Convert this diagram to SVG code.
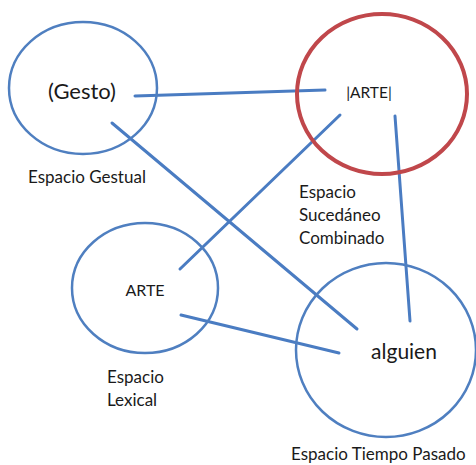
<svg xmlns="http://www.w3.org/2000/svg" width="476" height="465" viewBox="0 0 476 465">
<style>
.c{fill:none;stroke:#4f7fc0;stroke-width:2.5}
.r{fill:none;stroke:#c0474b;stroke-width:4}
.l{stroke:#4a7cc2;stroke-width:3;stroke-linecap:round;fill:none}
text{font-family:Lato,"Open Sans","Liberation Sans",sans-serif;fill:#1a1a1a}
.s{font-size:17px}
</style>
<rect width="476" height="465" fill="#fff"/>
<g id="connectors">
<line class="l" x1="135" y1="96" x2="325" y2="90"/>
<line class="l" x1="112" y1="123" x2="357" y2="329"/>
<line class="l" x1="180" y1="269" x2="340" y2="115"/>
<line class="l" x1="181" y1="315" x2="339" y2="353"/>
<line class="l" x1="395" y1="116" x2="410" y2="321"/>
</g>
<g id="gesto">
<ellipse class="c" cx="83" cy="88" rx="74" ry="66"/>
<text x="82" y="99" font-size="22" text-anchor="middle">(Gesto)</text>
<text class="s" x="28" y="183">Espacio Gestual</text>
</g>
<g id="arte-sucedaneo">
<ellipse class="r" cx="382" cy="94" rx="85" ry="80"/>
<text x="369" y="98" font-size="15.5" text-anchor="middle">|ARTE|</text>
<text class="s" x="299" y="198">Espacio</text>
<text class="s" x="299" y="221">Sucedáneo</text>
<text class="s" x="299" y="244">Combinado</text>
</g>
<g id="arte-lexical">
<ellipse class="c" cx="145" cy="288" rx="73" ry="65"/>
<text x="145" y="296" font-size="16" text-anchor="middle">ARTE</text>
<text class="s" x="107" y="383">Espacio</text>
<text class="s" x="107" y="406">Lexical</text>
</g>
<g id="alguien">
<ellipse class="c" cx="386" cy="350" rx="90" ry="87"/>
<text x="404" y="359" font-size="21" text-anchor="middle">alguien</text>
<text class="s" x="291" y="460">Espacio Tiempo Pasado</text>
</g>
</svg>
